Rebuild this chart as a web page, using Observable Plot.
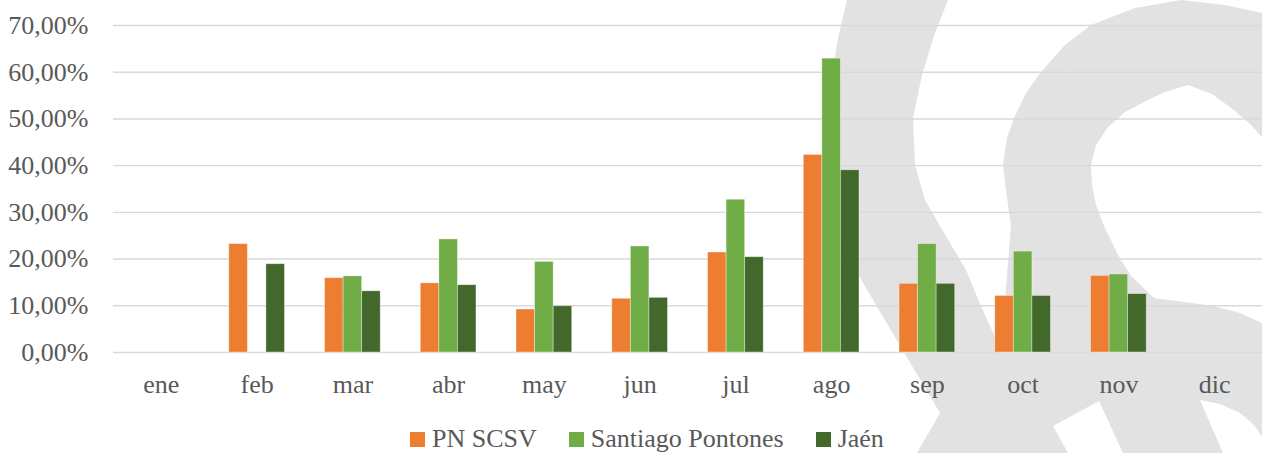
<!DOCTYPE html>
<html>
<head>
<meta charset="utf-8">
<script src="https://cdn.jsdelivr.net/npm/d3@7"></script>
<script src="https://cdn.jsdelivr.net/npm/@observablehq/plot@0.6"></script>
<style>
  html, body { margin: 0; padding: 0; background: #fff; width: 1262px; height: 453px; overflow: hidden; }
  #wrap { position: relative; width: 1262px; height: 453px; font-family: "Liberation Serif", serif; color: #595959; }
  #wm { position: absolute; left: 0; top: 0; }
  #chart { position: absolute; left: 0; top: 0; }
  #legend { position: absolute; left: 410px; top: 426px; display: flex; font-size: 26px; line-height: 26px; white-space: nowrap; }
  #legend .item { display: inline-block; margin-right: 32px; }
  #legend .sw { display: inline-block; width: 15px; height: 15px; margin-right: 7px; vertical-align: baseline; }
</style>
</head>
<body>
<div id="wrap">
  <svg id="wm" width="1262" height="453" viewBox="0 0 1262 453">
    <path fill="#e2e2e2" d="M847,0 L838,38 L832,75 L825,118 L826,165 L834,215 L848,255 L863,283 L940,413 L917,453 L1262,453 L1262,0 Z"/>
    <path fill="#fff" d="M948,0 L934,36 L922,75 L913,118 L915,165 L925,200 L940,226 L966,270 L981,306 L1000,348 L1005,300 L1011,226 L1006,190 L1003,165 L1007,138 L1014,118 L1026,93 L1041,72 L1065,45 L1091,25 L1135,8 L1181,0 Z"/>
    <path fill="#fff" d="M1181,0 L1262,0 L1262,13 L1225,5 Z"/>
    <path fill="#fff" d="M1188,85 L1165,92 L1148,100 L1125,112 L1108,127 L1096,145 L1091,165 L1092,185 L1096,205 L1104,226 L1118,255 L1131,276 L1154,298 L1185,302 L1214,306 L1240,313 L1262,323 L1262,137 L1250,124 L1234,110 L1212,94 Z"/>
    <path fill="#fff" d="M1053,426 L1099,401 L1123,453 L1068,453 Z"/>
    <path fill="#fff" d="M1200,400 L1220,404 L1240,413 L1255,426 L1262,437 L1262,453 L1223,453 Z"/>
  </svg>
  <div id="chart"></div>
  <div id="legend"></div>
</div>
<script>
const months = ["ene", "feb", "mar", "abr", "may", "jun", "jul", "ago", "sep", "oct", "nov", "dic"];
const seriesNames = ["PN SCSV", "Santiago Pontones", "Jaén"];
const seriesColors = ["#ED7D31", "#70AD47", "#43682B"];
const pnSCSV = [null, 23.2, 15.9, 14.8, 9.2, 11.5, 21.4, 42.3, 14.7, 12.1, 16.4, null];
const santiagoPontones = [null, null, 16.3, 24.2, 19.4, 22.7, 32.7, 62.9, 23.2, 21.6, 16.7, null];
const jaen = [null, 18.9, 13.1, 14.4, 9.9, 11.7, 20.4, 39.0, 14.7, 12.1, 12.5, null];
const yTicks = [0, 10, 20, 30, 40, 50, 60, 70];

const seriesValues = [pnSCSV, santiagoPontones, jaen];
const data = [];
months.forEach((m, i) => {
  seriesNames.forEach((s, j) => {
    const v = seriesValues[j][i];
    if (v != null) data.push({month: m, series: s, value: v});
  });
});
// gridlines drawn in every month facet (keeps empty months like ene/dic in the frame)
const gridData = months.flatMap(m => yTicks.map(t => ({month: m, tick: t})));

const fmt = d => d.toFixed(2).replace(".", ",") + "%";

const chart = Plot.plot({
  width: 1262,
  height: 418,
  marginTop: 25,
  marginBottom: 66,
  marginLeft: 113,
  marginRight: 0,
  style: {background: "transparent", fontFamily: "Liberation Serif, serif", fontSize: "26px", color: "#595959", overflow: "visible"},
  fx: {domain: months, padding: 0, round: false, label: null, axis: "bottom", tickSize: 0, tickPadding: 22},
  x: {domain: seriesNames, axis: null, round: false, paddingInner: 0, paddingOuter: 1.08},
  y: {domain: [0, 70], ticks: yTicks, tickFormat: fmt, label: null, tickSize: 0, tickPadding: 25},
  color: {domain: seriesNames, range: seriesColors},
  marks: [
    Plot.ruleY(gridData, {fx: "month", y: "tick", stroke: "#d9d9d9", strokeWidth: 1.4}),
    Plot.barY(data, {fx: "month", x: "series", y: "value", fill: "series", stroke: "#ffffff", strokeOpacity: 0.45, strokeWidth: 0.8})
  ]
});
document.getElementById("chart").appendChild(chart);

const legend = document.getElementById("legend");
seriesNames.forEach((s, i) => {
  const item = document.createElement("span");
  item.className = "item";
  const sw = document.createElement("span");
  sw.className = "sw";
  sw.style.background = seriesColors[i];
  item.appendChild(sw);
  item.appendChild(document.createTextNode(s));
  legend.appendChild(item);
});
</script>
</body>
</html>
